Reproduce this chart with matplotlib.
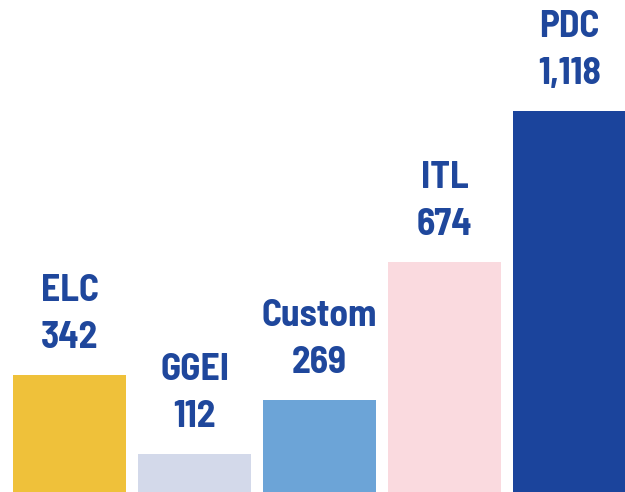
import matplotlib.pyplot as plt

names = ['ELC', 'GGEI', 'Custom', 'ITL', 'PDC']
values = [342, 112, 269, 674, 1118]
colors = ['#EFC13A', '#D3D9EA', '#6CA4D7', '#FADADF', '#1B449C']
text_color = '#1F479C'

fig = plt.figure(figsize=(6.25, 4.92), dpi=100)
ax = fig.add_axes([0, 0, 1, 1])

x = list(range(len(values)))
ax.bar(x, values, width=0.904, color=colors)

font = dict(fontsize=27, fontweight='bold', family='Barlow Semi Condensed', color=text_color)
for xi, name, v in zip(x, names, values):
    ax.annotate(f'{v:,}', (xi, v), xytext=(0, 19.5), textcoords='offset points',
                ha='center', va='baseline', **font)
    ax.annotate(name, (xi, v), xytext=(0, 53.5), textcoords='offset points',
                ha='center', va='baseline', **font)

ax.set_xlim(-0.556, 4.444)
ax.set_ylim(0, 1443)
ax.axis('off')

plt.savefig('out.png', dpi=100)
